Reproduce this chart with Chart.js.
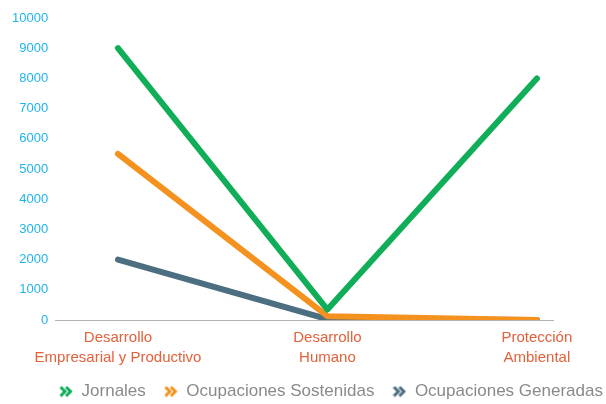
<!DOCTYPE html>
<html>
<head>
<meta charset="utf-8">
<script src="https://cdn.jsdelivr.net/npm/chart.js@4/dist/chart.umd.min.js"></script>
<style>
  html, body { margin: 0; padding: 0; background: #fff; }
  #wrap { width: 606px; height: 404px; position: relative; }
</style>
</head>
<body>
<div id="wrap"><canvas id="chart"></canvas></div>
<script>
  // ── Data ────────────────────────────────
  var categories = [
    ["Desarrollo", "Empresarial y Productivo"],
    ["Desarrollo", "Humano"],
    ["Protección", "Ambiental"]
  ];
  var seriesNames = ["Jornales", "Ocupaciones Sostenidas", "Ocupaciones Generadas"];
  var jornales = [9000, 350, 8000];
  var sostenidas = [5500, 130, 0];
  var generadas = [2000, 30, 0];
  var yTicks = [0, 1000, 2000, 3000, 4000, 5000, 6000, 7000, 8000, 9000, 10000];

  var colors = ["#10ae58", "#f5921f", "#4b6e80"];
  var FONT = "'Liberation Sans', Arial, sans-serif";

  // chevron icon for legend
  function chevron(color) {
    var c = document.createElement("canvas");
    c.width = 14; c.height = 12;
    var g = c.getContext("2d");
    g.strokeStyle = color;
    g.lineWidth = 3;
    [1.5, 7].forEach(function (x0) {
      g.beginPath();
      g.moveTo(x0, 1.5);
      g.lineTo(x0 + 4.5, 6);
      g.lineTo(x0, 10.5);
      g.stroke();
    });
    return c;
  }

  function toPoints(arr) {
    return arr.map(function (v, i) { return { x: i, y: v }; });
  }

  // legend runs wider than the plot area, on one row
  var wideLegend = {
    id: "wideLegend",
    afterInit: function (chart) {
      var lg = chart.legend;
      var fit = lg.fit;
      lg.fit = function () {
        this.maxWidth = chart.width + 60;
        fit.call(this);
      };
    },
    afterLayout: function (chart) {
      var lg = chart.legend;
      lg.left = 0;
      lg.right = 662;
      lg.top -= 11;
      lg.bottom -= 11;
    }
  };

  var series = [jornales, sostenidas, generadas];

  new Chart(document.getElementById("chart"), {
    type: "line",
    data: {
      datasets: series.map(function (s, i) {
        return {
          label: seriesNames[i],
          data: toPoints(s),
          borderColor: colors[i],
          backgroundColor: colors[i],
          borderWidth: 6,
          borderCapStyle: "round",
          borderJoinStyle: "round",
          pointRadius: 0,
          pointStyle: chevron(colors[i]),
          tension: 0,
          fill: false
        };
      })
    },
    plugins: [wideLegend],
    options: {
      responsive: true,
      maintainAspectRatio: false,
      animation: false,
      layout: { padding: { left: 5, right: 53, top: 18, bottom: -17 } },
      plugins: {
        tooltip: { enabled: false },
        legend: {
          position: "bottom",
          labels: {
            usePointStyle: true,
            pointStyleWidth: 14,
            padding: 18,
            color: "#8a8a8a",
            font: { family: FONT, size: 17 }
          }
        }
      },
      scales: {
        x: {
          type: "linear",
          min: -0.3,
          max: 2.077,
          afterBuildTicks: function (axis) {
            axis.ticks = categories.map(function (_, i) { return { value: i }; });
          },
          ticks: {
            autoSkip: false,
            maxRotation: 0,
            padding: 8,
            color: "#e4603a",
            font: { family: FONT, size: 15, lineHeight: 1.33 },
            callback: function (v) { return categories[v]; }
          },
          grid: { display: false, drawTicks: false },
          border: { display: true, color: "#b5b5b5", width: 1 }
        },
        y: {
          min: 0,
          max: 10000,
          afterBuildTicks: function (axis) {
            axis.ticks = yTicks.map(function (v) { return { value: v }; });
          },
          ticks: {
            padding: 7,
            color: "#1fb4ee",
            font: { family: FONT, size: 13 },
            callback: function (v) { return String(v); }
          },
          grid: { display: false, drawTicks: false },
          border: { display: false }
        }
      }
    }
  });
</script>
</body>
</html>
